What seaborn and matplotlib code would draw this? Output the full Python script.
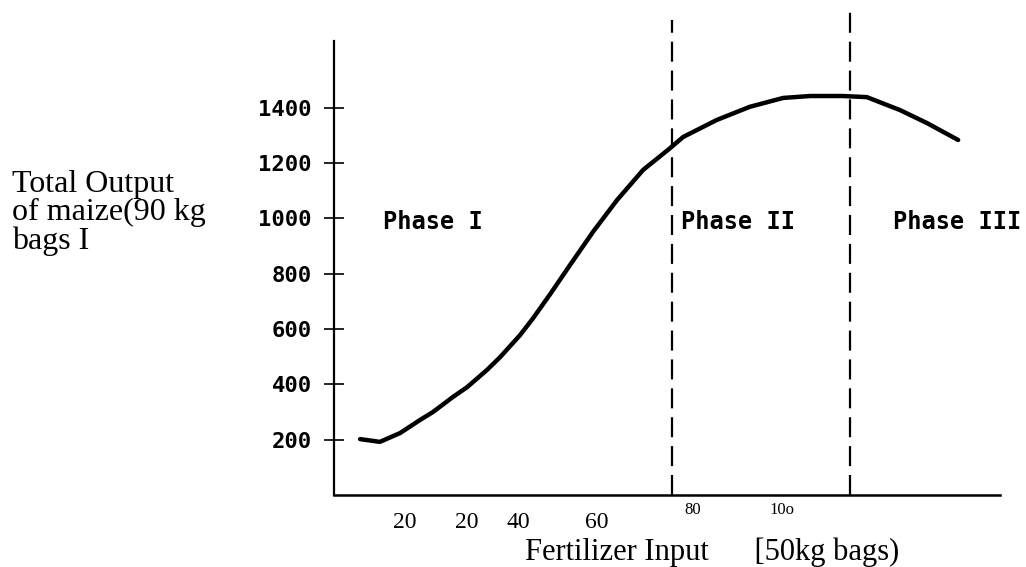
import seaborn as sns
import matplotlib.pyplot as plt
import pandas as pd

# fertilizer input (50kg bags) vs total output of maize (90kg bags)
fert_input = [5.8, 10.2, 14.7, 19.1, 22.0, 26.4, 29.6, 34.0, 36.9, 41.3, 44.2, 48.0,
              52.4, 57.6, 62.9, 68.7, 74.2, 77.6, 85.0, 92.4, 99.8, 105.8, 113.0,
              118.4, 125.8, 131.8, 138.7]
maize_output = [202, 192, 224, 271, 300, 354, 390, 452, 498, 577, 638, 725,
                830, 952, 1066, 1175, 1247, 1294, 1355, 1403, 1435, 1442, 1442,
                1438, 1391, 1344, 1283]

phase_bounds = [75, 114.7]
phase_tops = [1717, 1775]
phase_names = ["Phase I", "Phase II", "Phase III"]
phase_x = [22, 89.8, 138.4]

y_ticks = [200, 400, 600, 800, 1000, 1200, 1400]
x_big_pos = [15.8, 29.6, 40.9, 58.4]
x_big_labels = ["20", "20", "40", "60"]
x_small_pos = [79.6, 99.6]
x_small_labels = ["80", "10o"]

df = pd.DataFrame({"input": fert_input, "output": maize_output})

sns.set_style("white")
plt.rcParams['font.family'] = ['DejaVu Sans Mono', 'DejaVu Sans']
plt.rcParams['text.color'] = 'black'
plt.rcParams['xtick.color'] = 'black'
plt.rcParams['ytick.color'] = 'black'

fig = plt.figure(figsize=(10.26, 5.67), dpi=100)
ax = fig.add_axes([334 / 1026, 72 / 567, 666 / 1026, 495 / 567])

sns.lineplot(data=df, x="input", y="output", color="black", linewidth=3.2, ax=ax)

for b, top in zip(phase_bounds, phase_tops):
    ax.plot([b, b], [0, top], color="black", linewidth=1.6,
            linestyle=(0, (9, 4)), clip_on=False)

for name, px in zip(phase_names, phase_x):
    ax.text(px, 985, name, ha="center", va="center", fontsize=17, color="black",
            fontweight="bold", family="DejaVu Sans Mono", clip_on=False)

ax.set_xlim(0, 148)
ax.set_ylim(0, 1789)
ax.spines["top"].set_visible(False)
ax.spines["right"].set_visible(False)
ax.spines["left"].set_bounds(0, 1640)
ax.spines["left"].set_linewidth(1.6)
ax.spines["bottom"].set_linewidth(1.8)
ax.spines["left"].set_color("black")
ax.spines["bottom"].set_color("black")

ax.set_yticks(y_ticks)
ax.set_yticklabels([str(v) for v in y_ticks], fontsize=16, fontweight="bold",
                   family="DejaVu Sans Mono")
ax.tick_params(axis="y", direction="inout", length=14, width=1.2, pad=9,
               left=True, colors="black")

ax.set_xticks(x_big_pos)
ax.set_xticklabels(x_big_labels, fontsize=17, family="Liberation Serif")
ax.set_xticks(x_small_pos, minor=True)
ax.set_xticklabels(x_small_labels, minor=True, fontsize=12, family="Liberation Serif")
ax.tick_params(axis="x", which="major", length=0, pad=12, colors="black")
ax.tick_params(axis="x", which="minor", length=0, pad=5, colors="black")

ax.set_xlabel("")
ax.set_ylabel("")

fig.text(712 / 1026, 1 - 552 / 567, "Fertilizer Input      [50kg bags)",
         ha="center", va="center", fontsize=22, family="Liberation Serif",
         color="black")
fig.text(12 / 1026, 1 - 213 / 567, "Total Output\nof maize(90 kg\nbags I",
         ha="left", va="center", fontsize=23, family="Liberation Serif",
         linespacing=0.97, color="black")

fig.savefig("out.png", dpi=100)
